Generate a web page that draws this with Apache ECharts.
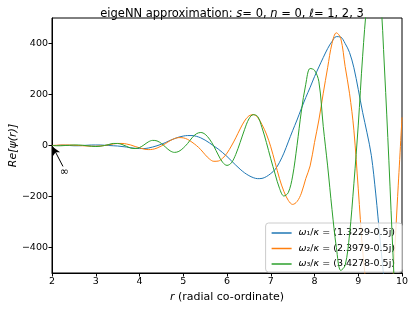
<!DOCTYPE html>
<html>
<head>
<meta charset="utf-8">
<script src="https://cdn.jsdelivr.net/npm/echarts@6/dist/echarts.min.js"></script>
<style>html,body{margin:0;padding:0;background:#fff}#c{width:414px;height:309px}</style>
</head>
<body>
<div id="c"></div>
<script>
var r = [];
for (var i = 0; i <= 80; i++) r.push(+(2 + i * 0.1).toFixed(1));

var psi1 = [0,0,1,1,0,-1,-1,0,1,2,
  2,2,1,0,-1,-2,-4,-6,-9,-11,
  -12,-12,-10,-6,-1,5,12,20,27,33,
  37,39,39,36,30,21,10,-2,-14,-28,
  -43,-60,-77,-93,-107,-118,-126,-130,-129,-122,
  -110,-94,-66,-30,14,58,100,145,188,228,
  270,308,345,380,408,427,425,400,365,305,
  220,130,50,-40,-190,-370,-540,-670,-780,-860,
  -900];
var psi2 = [0,1,2,2,2,1,0,-1,-2,-3,
  -3,-2,0,3,6,8,8,6,2,-4,
  -9,-14,-16,-15,-10,-2,8,19,27,31,
  30,24,13,0,-16,-36,-53,-62,-61,-50,
  -30,-2,30,65,96,116,121,110,82,45,
  -5,-67,-130,-180,-215,-231,-220,-187,-130,-80,
  12,100,205,305,400,442,420,310,205,60,
  -170,-410,-580,-730,-830,-850,-800,-680,-500,-200,
  110];
var psi3 = [0,-1,-1,0,1,2,2,1,-1,-3,
  -4,-3,0,4,8,8,4,-3,-10,-12,
  -8,2,14,20,18,8,-7,-21,-27,-23,
  -10,8,30,46,51,44,25,-3,-37,-66,
  -78,-68,-35,12,62,104,121,114,70,12,
  -52,-112,-168,-198,-185,-120,0,135,240,302,
  295,250,75,-80,-251,-400,-490,-470,-350,-150,
  80,350,560,680,690,600,300,-60,-450,-800,
  -980];

var names = ['w1', 'w2', 'w3'];
var legendText = {
  w1: '{i|ω}₁/{i|κ} = (1.3229-0.5j)',
  w2: '{i|ω}₂/{i|κ} = (2.3979-0.5j)',
  w3: '{i|ω}₃/{i|κ} = (3.4278-0.5j)'
};
var colors = ['#1f77b4', '#ff7f0e', '#2ca02c'];
var xTicks = [2, 3, 4, 5, 6, 7, 8, 9, 10];
var yTicks = [-400, -200, 0, 200, 400];

var FONT = 'DejaVu Sans';
function pairs(v) { return r.map(function (x, k) { return [x, v[k]]; }); }
var allData = [psi1, psi2, psi3];

var series = allData.map(function (v, k) {
  return {
    name: names[k], type: 'line', data: pairs(v), smooth: 0.35,
    showSymbol: false, symbol: 'none', clip: true,
    lineStyle: { width: 1, color: colors[k] }, itemStyle: { color: colors[k] },
    z: 2 + k
  };
});
series[0].markLine = {
  silent: true, symbol: ['none', 'arrow'], symbolSize: [6, 8],
  lineStyle: { color: '#000', width: 1, type: 'solid' },
  label: { show: false },
  data: [[{ coord: [2.25, -82] }, { coord: [2.02, -6] }]]
};
series[0].markPoint = {
  silent: true, symbol: 'circle', symbolSize: 0,
  label: { show: true, formatter: '∞', color: '#000', fontFamily: FONT, fontSize: 11, position: 'inside' },
  data: [{ coord: [2.28, -104] }]
};

var chart = echarts.init(document.getElementById('c'), null, { renderer: 'canvas' });
chart.setOption({
  animation: false,
  backgroundColor: '#fff',
  textStyle: { fontFamily: FONT },
  title: {
    text: '{t|eigeNN approximation: }{i|s}{t|= 0, }{i|n}{t| = 0, }{i|ℓ}{t|= 1, 2, 3}',
    left: 227, top: 3, textAlign: 'center',
    textStyle: {
      fontWeight: 'normal',
      rich: {
        t: { fontFamily: FONT, fontSize: 11.5, color: '#000', fontWeight: 'normal' },
        i: { fontFamily: FONT, fontSize: 11.5, color: '#000', fontStyle: 'italic', fontWeight: 'normal' }
      }
    }
  },
  legend: {
    data: names, orient: 'vertical', right: 12, bottom: 37,
    backgroundColor: 'rgba(255,255,255,0.8)', borderColor: '#cccccc', borderWidth: 1, borderRadius: 3,
    padding: [5, 7, 3, 6], itemGap: 5.5, itemWidth: 20, itemHeight: 1.5, icon: 'rect',
    formatter: function (n) { return legendText[n]; },
    textStyle: {
      fontFamily: FONT, fontSize: 9.5, color: '#000', padding: [0, 0, 0, 2],
      rich: { i: { fontFamily: FONT, fontSize: 9.5, fontStyle: 'italic', color: '#000' } }
    }
  },
  grid: { left: 52, right: 12, top: 18, bottom: 36, outerBoundsMode: 'none', containLabel: false, show: true, borderColor: '#000', borderWidth: 1, backgroundColor: 'transparent' },
  xAxis: {
    type: 'value', min: 2, max: 10, interval: 1,
    name: '{i|r} (radial co-ordinate)', nameLocation: 'middle', nameGap: 18,
    nameTextStyle: {
      fontFamily: FONT, fontSize: 11, color: '#000',
      rich: { i: { fontFamily: FONT, fontSize: 11, fontStyle: 'italic', color: '#000' } }
    },
    axisLine: { onZero: false, lineStyle: { color: '#000', width: 1 } },
    axisTick: { length: 3.5, lineStyle: { color: '#000' }, customValues: xTicks },
    axisLabel: { color: '#000', fontFamily: FONT, fontSize: 9.5, margin: 4, customValues: xTicks },
    splitLine: { show: false }
  },
  yAxis: {
    type: 'value', min: -500, max: 500,
    name: 'Re[ψ(r)]', nameLocation: 'middle', nameGap: 33, nameRotate: 90, nameMoveOverlap: false,
    nameTextStyle: { fontFamily: FONT, fontSize: 11, fontStyle: 'italic', color: '#000' },
    axisLine: { onZero: false, lineStyle: { color: '#000', width: 1 } },
    axisTick: { length: 3.5, lineStyle: { color: '#000' }, customValues: yTicks },
    axisLabel: {
      color: '#000', fontFamily: FONT, fontSize: 9.5, margin: 4, customValues: yTicks,
      formatter: function (v) { return String(v).replace('-', '\u2212'); }
    },
    splitLine: { show: false }
  },
  series: series
});
</script>
</body>
</html>
